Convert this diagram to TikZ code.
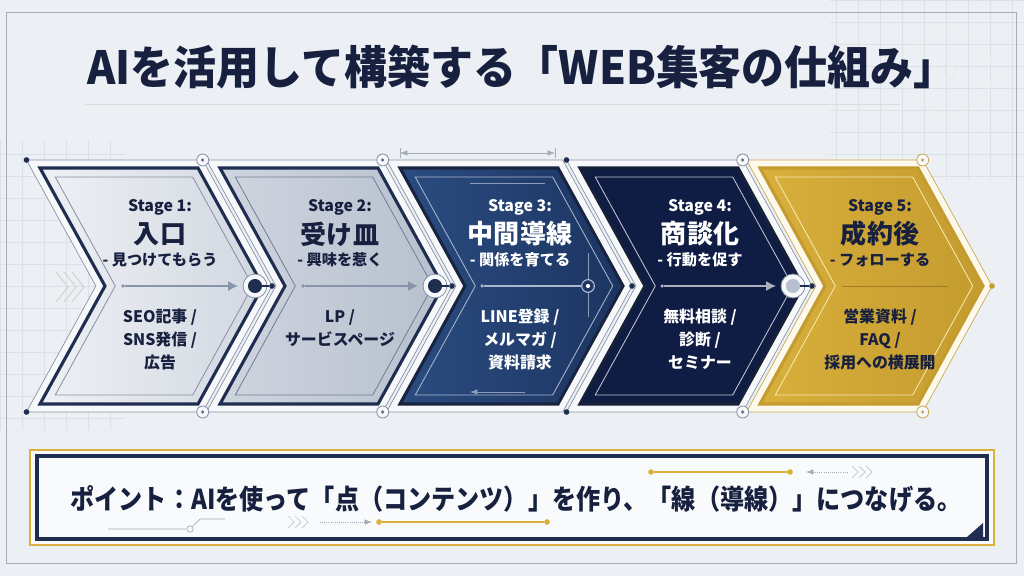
\documentclass[tikz,border=0pt]{standalone}
\usepackage{fontspec}
\setmainfont{Noto Sans CJK JP}
\newfontfamily\titlefont{Noto Sans CJK JP}[FakeStretch=0.94]
\newfontfamily\condfont{Noto Sans CJK JP}[FakeStretch=0.88]
\usetikzlibrary{positioning,arrows.meta}

\definecolor{bgc}{HTML}{ECEFF3}
\definecolor{gridc}{HTML}{DCE1E8}
\definecolor{framec}{HTML}{A4ACB9}
\definecolor{ink}{HTML}{17213F}
\definecolor{navy}{HTML}{1F2D50}
\definecolor{bandc}{HTML}{F7F8FA}
\definecolor{bandline}{HTML}{8893A8}
\definecolor{midc}{HTML}{8794AC}
\definecolor{c1l}{HTML}{EEF0F4}
\definecolor{c1r}{HTML}{D2D8E1}
\definecolor{c2l}{HTML}{CFD5DF}
\definecolor{c2r}{HTML}{B7C0CE}
\definecolor{c3l}{HTML}{2B4C80}
\definecolor{c3r}{HTML}{1C3562}
\definecolor{c4}{HTML}{0F1C43}
\definecolor{goldd}{HTML}{C49B2E}
\definecolor{goldm}{HTML}{D9B03C}
\definecolor{goldl}{HTML}{F3DA7E}
\definecolor{goldline}{HTML}{C8A957}

% chevron outline: #1 = left x, #2 = offset (outwards > 0)
\newcommand{\chevpath}[2]{({#1-1.693*(#2)},{168-(#2)}) -- ({#1+158+0.591*(#2)},{168-(#2)}) -- ({#1+223+1.142*(#2)},286) -- ({#1+158+0.591*(#2)},{404+(#2)}) -- ({#1-1.693*(#2)},{404+(#2)}) -- ({#1+65-1.142*(#2)},286) -- cycle}

\begin{document}
\begin{tikzpicture}[x=0.025cm,y=-0.025cm,>=Latex,
  band/.style={fill=bandc,draw=bandline,line width=0.5pt},
  rim/.style={draw=#1,line width=2.2pt,line join=miter},
  innerline/.style={draw=#1,line width=0.6pt},
  stage/.style={font=\bfseries\fontsize{11.3}{13}\selectfont},
  ttl/.style={font=\bfseries\fontsize{18.5}{20}\selectfont},
  sub/.style={font=\bfseries\fontsize{10.8}{13}\selectfont},
  items/.style={font=\bfseries\fontsize{11.3}{16.3}\selectfont,align=center,anchor=north,inner sep=0pt},
  ring/.style={circle,draw=#1,line width=0.6pt,fill=bandc,minimum size=8.5pt,inner sep=0pt},
  dot/.style={circle,fill=#1,minimum size=4pt,inner sep=0pt},
  halo/.style={circle,draw=#1,line width=0.6pt,fill=bandc,minimum size=17pt,inner sep=0pt},
  core/.style={circle,fill=#1,minimum size=10pt,inner sep=0pt},
  midline/.style={draw=#1,line width=0.8pt},
  faint/.style={draw=#1,line width=0.5pt},
]
\useasboundingbox (0,0) rectangle (1024,576);
\fill[bgc] (0,0) rectangle (1024,576);

% blueprint background
\draw[gridc,line width=0.3pt,step=0.55cm] (830,180) grid (1024,0);
\draw[gridc,line width=0.3pt,step=0.55cm] (0,430) grid (125,140);
\draw[faint=gridc!80!black!20] (950,72) circle[radius=42];
\draw[faint=gridc!70!black!25] (950,72) circle[radius=6];
\draw[framec,line width=0.6pt] (6,12) rectangle (1016,563);

% title
\node[font=\titlefont\bfseries\fontsize{32.5}{36}\selectfont,text=ink] (title) at (522,67) {AIを活用して構築する「WEB集客の仕組み」};
\draw[faint=gridc!60!black!30] (85,104) -- (900,104);

% outer bands
\draw[band] \chevpath{40}{8};
\draw[band] \chevpath{220}{8};
\draw[band] \chevpath{400}{8};
\draw[band] \chevpath{580}{8};
\draw[band,fill=white!85!goldl,draw=goldline] \chevpath{760}{8};

% chevron bodies
\draw[rim=navy,left color=c1l,right color=c1r] \chevpath{40}{0};
\draw[rim=navy,left color=c2l,right color=c2r] \chevpath{220}{0};
\draw[rim=navy!80!black,left color=c3l,right color=c3r] \chevpath{400}{0};
\draw[rim=navy!70!black,fill=c4] \chevpath{580}{0};
\draw[rim=goldd,left color=goldm,middle color=goldl,right color=goldd] \chevpath{760}{0};

% inner lines
\draw[innerline=bandline] \chevpath{40}{-9};
\draw[innerline=bandline!80!navy] \chevpath{220}{-9};
\draw[innerline=c3l!40!white] \chevpath{400}{-9};
\draw[innerline=c4!25!white] \chevpath{580}{-9};
\draw[innerline=goldl!60!white] \chevpath{760}{-9};

% blueprint marks on chevron 3
\draw[faint=c3l!55!white] (588,253) -- (588,317);
\draw[faint=c3l!55!white] (470,183) -- (545,183);
\draw[faint=c3l!55!white,<-] (470,392) -- (525,392);
\draw[faint=framec] (400,148) -- (400,158) (555,148) -- (555,158);
\draw[faint=framec,<->] (400,153) -- (555,153);

% corner marks
\node[dot=navy] (tl1) at (26.5,160) {};
\node[dot=navy] (bl1) at (26.5,412) {};
\node[dot=navy] (tl4) at (566.5,160) {};
\node[dot=navy] (bl4) at (566.5,412) {};
\node[ring=bandline] (tr1) at (202.7,160) {};
\node[ring=bandline] (br1) at (202.7,412) {};
\node[ring=bandline] (tr2) at (382.7,160) {};
\node[ring=bandline] (br2) at (382.7,412) {};
\node[ring=bandline] (tr4) at (742.7,160) {};
\node[ring=bandline] (br4) at (742.7,412) {};
\node[ring=goldline] (tr5) at (922.7,160) {};
\node[ring=goldline] (br5) at (922.7,412) {};
\node[dot=navy!70,minimum size=2.5pt] at (tr1) {};
\node[dot=navy!70,minimum size=2.5pt] at (br1) {};
\node[dot=navy!70,minimum size=2.5pt] at (tr2) {};
\node[dot=navy!70,minimum size=2.5pt] at (br2) {};
\node[dot=navy!70,minimum size=2.5pt] at (tr4) {};
\node[dot=navy!70,minimum size=2.5pt] at (br4) {};
\node[dot=goldline,minimum size=2.5pt] at (tr5) {};
\node[dot=goldline,minimum size=2.5pt] at (br5) {};

% left faint chevrons
\draw[faint=gridc!60!black!35,line width=0.8pt] (56,272) -- (68,287) -- (56,302) (64,272) -- (76,287) -- (64,302) (72,272) -- (84,287) -- (72,302);

% junctions
\node[dot=navy] (o1) at (272,286) {};
\node[dot=navy] (o2) at (452,286) {};
\node[dot=navy] (o3) at (632,286) {};
\node[dot=navy] (o4) at (812,286) {};
\node[dot=goldd] (o5) at (992,286) {};
\node[halo=bandline] (h1) at (255,286) {};
\node[core=navy] (j1) at (255,286) {};
\node[halo=bandline] (h2) at (435,286) {};
\node[core=navy] (j2) at (435,286) {};
\node[halo=bandline] (h4) at (793,286) {};
\node[core=c2r] (j4) at (793,286) {};
\draw[midline=navy] (j1) -- (o1);
\draw[midline=navy] (j2) -- (o2);
\draw[midline=navy] (j4) -- (o4);

% stage 1
\node[dot=midc,minimum size=2.5pt] (d1) at (123,286) {};
\coordinate (e1) at (238,286);
\draw[midline=midc,-{Latex[length=7pt,width=7pt]}] (d1) -- (e1);
\node[stage,text=ink] (st1) at (160,207) {Stage 1:};
\node[ttl,text=ink] (nm1) at (160,234) {入口};
\node[sub,text=ink] (sb1) at (160,260) {- 見つけてもらう};
\node[items,text=ink] (it1) at (160,309) {SEO記事 /\\SNS発信 /\\広告};

% stage 2
\node[dot=midc,minimum size=2.5pt] (d2) at (303,286) {};
\coordinate (e2) at (418,286);
\draw[midline=midc,-{Latex[length=7pt,width=7pt]}] (d2) -- (e2);
\node[stage,text=ink] (st2) at (340,207) {Stage 2:};
\node[ttl,text=ink] (nm2) at (340,234) {受け皿};
\node[sub,text=ink] (sb2) at (340,260) {- 興味を惹く};
\node[items,text=ink] (it2) at (340,309) {LP /\\サービスページ};

% stage 3
\node[dot=c3l!40!white,minimum size=2.5pt] (d3) at (482,286) {};
\node[circle,draw=c3l!35!white,line width=0.8pt,fill=c3r,minimum size=9pt,inner sep=0pt] (r3) at (588,286) {};
\node[dot=white,minimum size=3pt] at (r3) {};
\draw[midline=c3l!40!white] (d3) -- (r3);
\node[stage,text=white] (st3) at (520,207) {Stage 3:};
\node[ttl,text=white] (nm3) at (520,234) {中間導線};
\node[sub,text=white] (sb3) at (520,260) {- 関係を育てる};
\node[items,text=white] (it3) at (520,309) {LINE登録 /\\メルマガ /\\資料請求};

% stage 4
\node[dot=c4!30!white,minimum size=2.5pt] (d4) at (662,286) {};
\coordinate (e4) at (776,286);
\draw[midline=c4!35!white,-{Latex[length=7pt,width=7pt]}] (d4) -- (e4);
\node[stage,text=white] (st4) at (700,207) {Stage 4:};
\node[ttl,text=white] (nm4) at (700,234) {商談化};
\node[sub,text=white] (sb4) at (700,260) {- 行動を促す};
\node[items,text=white] (it4) at (700,309) {無料相談 /\\診断 /\\セミナー};

% stage 5
\coordinate (d5) at (842,286);
\coordinate (e5) at (948,286);
\draw[midline=goldd!80!black,line width=0.6pt] (d5) -- (e5);
\node[stage,text=ink] (st5) at (880,207) {Stage 5:};
\node[ttl,text=ink] (nm5) at (880,234) {成約後};
\node[sub,text=ink] (sb5) at (880,260) {- フォローする};
\node[items,text=ink] (it5) at (880,309) {営業資料 /\\FAQ /\\採用への横展開};

% point box
\draw[goldm,line width=1.8pt,fill=white!70!bgc] (30,450) rectangle (994,545);
\draw[navy,line width=2.4pt] (37,456) rectangle (987,539);
\node[font=\condfont\bfseries\fontsize{19.5}{22}\selectfont,text=ink] (point) at (516,499) {ポイント：AIを使って「点（コンテンツ）」を作り、「線（導線）」につなげる。};

% box ornaments
\node[dot=goldm] (g1) at (651,472) {};
\node[dot=goldm] (g2) at (790,472) {};
\draw[goldm,line width=1pt] (g1) -- (g2);
\coordinate (a1) at (806,472);
\coordinate (a2) at (848,472);
\draw[faint=framec,densely dotted,<-] (a1) -- (a2);
\draw[faint=framec!70] (852,466) -- (858,472) -- (852,478) (859,466) -- (865,472) -- (859,478) (866,466) -- (872,472) -- (866,478);
\node[dot=goldm] (g3) at (379,522) {};
\node[dot=goldm] (g4) at (547,522) {};
\draw[goldm,line width=1pt] (g3) -- (g4);
\coordinate (a3) at (320,522);
\coordinate (a4) at (372,522);
\draw[faint=framec,densely dotted,->] (a3) -- (a4);
\draw[faint=framec!70] (288,516) -- (294,522) -- (288,528) (295,516) -- (301,522) -- (295,528) (302,516) -- (308,522) -- (302,528);
\node[circle,draw=framec,line width=0.5pt,minimum size=4.5pt,inner sep=0pt] (c1) at (190,529) {};
\coordinate (b0) at (108,529);
\draw[faint=framec] (b0) -- (c1) -- (200,519) -- (225,519);
\fill[navy] (967,537) -- (983,537) -- (983,523) -- cycle;
\end{tikzpicture}
\end{document}
